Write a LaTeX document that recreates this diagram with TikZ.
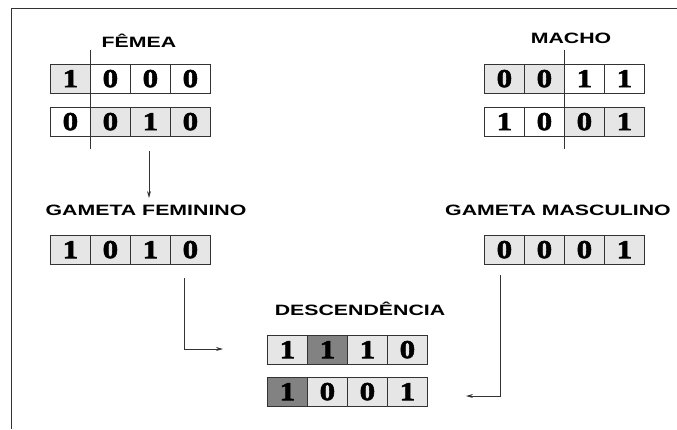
\documentclass[tikz,border=0pt]{standalone}
\usepackage{fontspec}
\setmainfont{Liberation Serif}
\newfontfamily\digitfont[FakeStretch=1.2,FakeBold=2]{Liberation Serif}
\newfontfamily\labfont[FakeStretch=1.42]{Liberation Sans}
\usetikzlibrary{arrows.meta}
\definecolor{lightg}{HTML}{E6E6E6}
\definecolor{darkg}{HTML}{828282}
\definecolor{linec}{HTML}{333333}
\begin{document}
\begin{tikzpicture}[x=1pt,y=-1pt,
  cell/.style={draw=linec, line width=0.8pt, minimum width=40pt, minimum height=28.5pt,
    inner sep=0pt, anchor=north west, font=\fontsize{26}{26}\selectfont\digitfont\bfseries},
  wt/.style={fill=white}, lt/.style={fill=lightg}, dk/.style={fill=darkg},
  lab/.style={anchor=base, inner sep=0pt, font=\fontsize{15}{15}\selectfont\labfont\bfseries},
  conn/.style={draw=linec, line width=0.9pt},
  arr/.style={conn, -{Stealth[length=7pt,width=4pt]}}]
\useasboundingbox (0,0) rectangle (677,429);
% frame
\draw[draw=linec, line width=0.9pt] (677,8) -- (11,8) -- (11,429);

% labels
\node[lab] (lfem) at (139,47) {FÊMEA};
\node[lab] (lmac) at (571,43) {MACHO};
\node[lab] (lgf) at (146,215) {GAMETA FEMININO};
\node[lab] (lgm) at (558,215) {GAMETA MASCULINO};
\node[lab] (ldes) at (360,315) {DESCENDÊNCIA};

% female chromosomes
\foreach \v/\s [count=\i] in {1/lt,0/wt,0/wt,0/wt}
  \node[cell,\s] (fa\i) at ({50+40*(\i-1)},64) {\v};
\foreach \v/\s [count=\i] in {0/wt,0/lt,1/lt,0/lt}
  \node[cell,\s] (fb\i) at ({50+40*(\i-1)},107) {\v};
% male chromosomes
\foreach \v/\s [count=\i] in {0/lt,0/lt,1/wt,1/wt}
  \node[cell,\s] (ma\i) at ({484+40*(\i-1)},64) {\v};
\foreach \v/\s [count=\i] in {1/wt,0/wt,0/lt,1/lt}
  \node[cell,\s] (mb\i) at ({484+40*(\i-1)},107) {\v};
% gametes
\foreach \v/\s [count=\i] in {1/lt,0/lt,1/lt,0/lt}
  \node[cell,\s] (gf\i) at ({50+40*(\i-1)},235) {\v};
\foreach \v/\s [count=\i] in {0/lt,0/lt,0/lt,1/lt}
  \node[cell,\s] (gm\i) at ({484+40*(\i-1)},235) {\v};
% offspring
\foreach \v/\s [count=\i] in {1/lt,1/dk,1/lt,0/lt}
  \node[cell,\s] (da\i) at ({267+40*(\i-1)},335) {\v};
\foreach \v/\s [count=\i] in {1/dk,0/lt,0/lt,1/lt}
  \node[cell,\s] (db\i) at ({267+40*(\i-1)},377) {\v};

% crossover points
\coordinate (fct) at (90,50);
\coordinate (fcb) at (90,149);
\coordinate (mct) at (564,50);
\coordinate (mcb) at (564,149);
\draw[conn] (fct) -- (fcb);
\draw[conn] (mct) -- (mcb);

% arrows
\coordinate (a1s) at (149,151);
\coordinate (a1e) at (149,198);
\draw[arr] (a1s) -- (a1e);

\coordinate (a2s) at (184,278);
\coordinate (a2c) at (184,349);
\coordinate (a2e) at (223,349);
\draw[arr] (a2s) -- (a2c) -- (a2e);

\coordinate (a3s) at (500,275);
\coordinate (a3c) at (500,396);
\coordinate (a3e) at (466,396);
\draw[arr] (a3s) -- (a3c) -- (a3e);
\end{tikzpicture}
\end{document}
